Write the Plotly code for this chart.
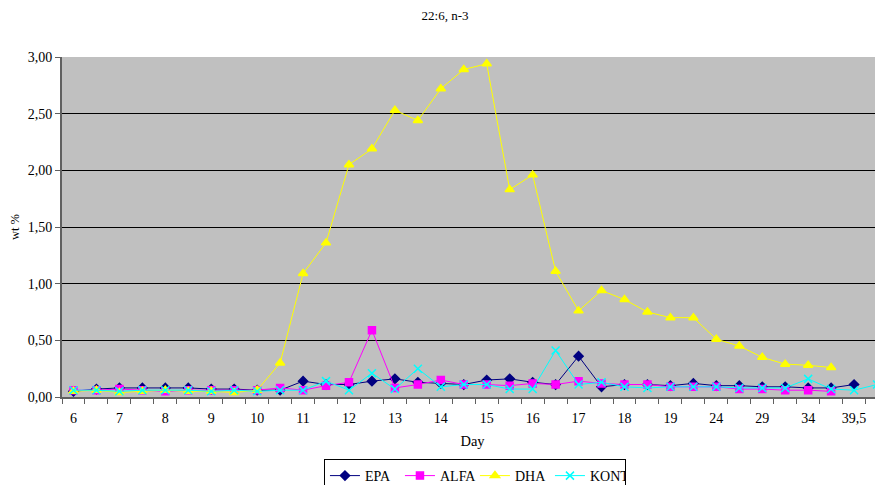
import plotly.graph_objects as go

days = ["6", "6,5", "7", "7,5", "8", "8,5", "9", "9,5", "10", "10,5",
        "11", "11,5", "12", "12,5", "13", "13,5", "14", "14,5", "15", "15,5",
        "16", "16,5", "17", "17,5", "18", "18,5", "19", "21,5", "24", "26,5",
        "29", "31,5", "34", "36,5", "39,5", "44,5"]
shown_days = ["6", "7", "8", "9", "10", "11", "12", "13", "14", "15", "16",
              "17", "18", "19", "24", "29", "34", "39,5"]

epa = [0.05, 0.07, 0.08, 0.08, 0.08, 0.08, 0.07, 0.07, 0.06, 0.06,
       0.14, 0.11, 0.11, 0.14, 0.16, 0.13, 0.12, 0.11, 0.15, 0.16,
       0.13, 0.11, 0.36, 0.09, 0.11, 0.11, 0.10, 0.12, 0.10, 0.10,
       0.09, 0.09, 0.08, 0.08, 0.11, None]
alfa = [0.06, 0.06, 0.07, 0.06, 0.05, 0.06, 0.06, 0.06, 0.06, 0.08,
        0.06, 0.10, 0.13, 0.59, 0.08, 0.11, 0.15, 0.11, 0.11, 0.10,
        0.12, 0.11, 0.14, 0.12, 0.11, 0.11, 0.09, 0.09, 0.09, 0.07,
        0.07, 0.06, 0.06, 0.05, None, None]
dha = [0.05, 0.06, 0.04, 0.05, 0.06, 0.05, 0.05, 0.04, 0.06, 0.30,
       1.09, 1.36, 2.05, 2.19, 2.53, 2.44, 2.72, 2.89, 2.94, 1.83,
       1.96, 1.11, 0.76, 0.94, 0.86, 0.75, 0.70, 0.70, 0.51, 0.45,
       0.35, 0.29, 0.28, 0.26, None, None]
kont = [0.06, 0.06, 0.05, 0.06, 0.06, 0.06, 0.05, 0.06, 0.05, 0.06,
        0.06, 0.14, 0.06, 0.21, 0.07, 0.25, 0.09, 0.11, 0.11, 0.07,
        0.07, 0.41, 0.11, 0.13, 0.09, 0.08, 0.09, 0.09, 0.09, 0.08,
        0.08, 0.08, 0.16, 0.07, 0.06, 0.11]

series = [
    ("EPA", epa, "#000080", "diamond", 7),
    ("ALFA", alfa, "#FF00FF", "square", 7),
    ("DHA", dha, "#FFFF00", "triangle-up", 8),
    ("KONT", kont, "#00FFFF", "x-thin-open", 8),
]

FONT = "Liberation Serif"
W, H = 875, 477   # page body has an 8px default margin

fig = go.Figure()
for name, vals, color, sym, size in series:
    fig.add_trace(go.Scatter(
        x=days, y=vals, name=name, mode="lines+markers",
        line=dict(color=color, width=1),
        marker=dict(symbol=sym, size=size, color=color,
                    line=dict(color=color, width=1.5)),
        connectgaps=False,
    ))

ticktext = [d if d in shown_days else "" for d in days]

fig.update_layout(
    width=W, height=H,
    margin=dict(l=54, r=0, t=49, b=88, autoexpand=False),
    paper_bgcolor="white",
    plot_bgcolor="#C0C0C0",
    separators=", ",
    font=dict(family=FONT, size=14, color="black"),
    title=dict(text="22:6, n-3", x=0.4665, xref="paper", xanchor="center",
               yref="container", y=1 - 3 / H, yanchor="top",
               font=dict(size=13)),
    showlegend=True,
    legend=dict(orientation="h", x=0.503, xref="paper", xanchor="center",
                yref="container", y=1 - 451 / H, yanchor="top",
                bordercolor="black", borderwidth=1,
                bgcolor="white", font=dict(size=14), traceorder="normal",
                itemwidth=30, entrywidth=30, entrywidthmode="pixels",
                tracegroupgap=0),
)

fig.update_xaxes(
    type="category", categoryorder="array", categoryarray=days,
    range=[-0.5, 35.26], automargin=False,
    tickmode="array", tickvals=days, ticktext=ticktext, tickangle=0,
    tickson="boundaries", ticks="outside", ticklen=5, tickcolor="#606060",
    ticklabelstandoff=7,
    showgrid=False, showline=True, linecolor="#606060", linewidth=2,
    zeroline=False,
    title=dict(text="Day", standoff=11, font=dict(size=14.5)),
    tickfont=dict(size=14),
)
fig.update_yaxes(
    range=[0, 3], dtick=0.5, tick0=0, tickformat=".2f", automargin=False,
    ticks="outside", ticklen=5, tickcolor="#606060",
    showgrid=True, gridcolor="black", gridwidth=1,
    showline=True, linecolor="#606060", linewidth=2,
    zeroline=False,
    title=dict(text="wt %", standoff=7, font=dict(size=12.5)),
    tickfont=dict(size=14),
)

fig.write_html("out.html")
